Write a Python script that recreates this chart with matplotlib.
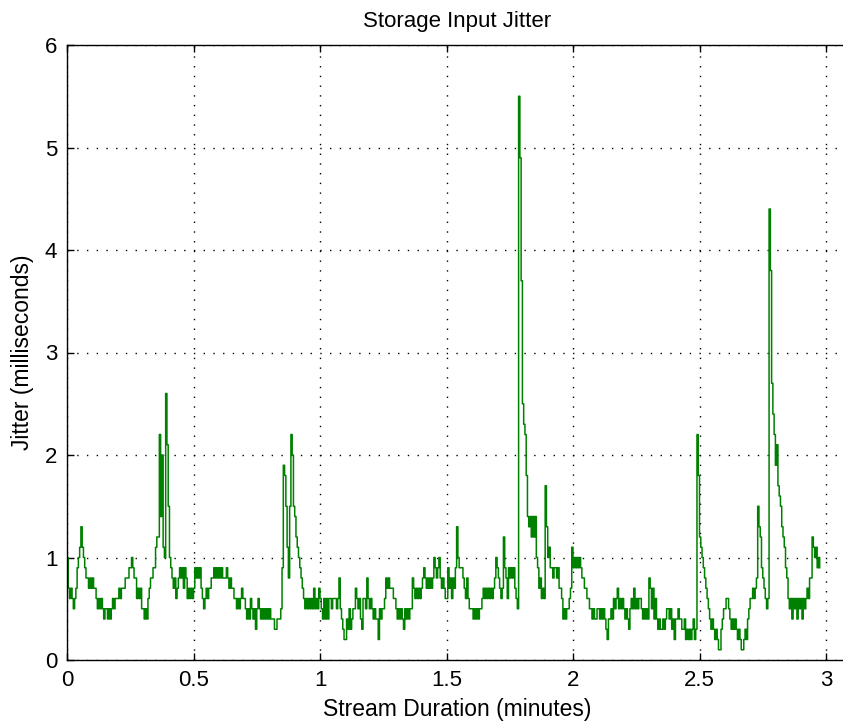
import numpy as np
import matplotlib
matplotlib.use("Agg")
import matplotlib.pyplot as plt

# Jitter samples (ms), one every 0.005 minutes, listed 0.1 minute per row
sample_step = 0.005
jitter_ms = [
    1.0, 0.7, 0.6, 0.7, 0.6, 0.5, 0.6, 0.7, 0.9, 1.0, 1.1, 1.3, 1.1, 1.0, 0.9, 0.8, 0.8, 0.7, 0.8, 0.7,
    0.8, 0.7, 0.7, 0.6, 0.5, 0.6, 0.5, 0.6, 0.5, 0.4, 0.5, 0.5, 0.4, 0.5, 0.4, 0.5, 0.6, 0.5, 0.6, 0.6,
    0.6, 0.7, 0.6, 0.7, 0.7, 0.7, 0.8, 0.8, 0.8, 0.9, 0.9, 1.0, 0.9, 0.8, 0.8, 0.6, 0.7, 0.6, 0.7, 0.5,
    0.5, 0.4, 0.5, 0.4, 0.6, 0.7, 0.8, 0.8, 0.9, 0.9, 1.1, 1.2, 1.2, 2.2, 1.4, 2.0, 1.1, 1.0, 2.6, 2.1,
    1.5, 1.0, 0.9, 0.8, 0.7, 0.8, 0.6, 0.7, 0.8, 0.9, 0.8, 0.9, 0.7, 0.9, 0.8, 0.6, 0.7, 0.6, 0.7, 0.6,
    0.7, 0.9, 0.8, 0.9, 0.8, 0.9, 0.7, 0.6, 0.5, 0.6, 0.7, 0.6, 0.7, 0.7, 0.8, 0.8, 0.9, 0.8, 0.9, 0.8,
    0.9, 0.8, 0.9, 0.8, 0.8, 0.8, 0.9, 0.8, 0.7, 0.8, 0.7, 0.7, 0.6, 0.6, 0.5, 0.6, 0.5, 0.6, 0.7, 0.6,
    0.6, 0.5, 0.4, 0.5, 0.4, 0.6, 0.5, 0.4, 0.5, 0.3, 0.5, 0.6, 0.5, 0.4, 0.5, 0.4, 0.5, 0.4, 0.5, 0.4,
    0.5, 0.4, 0.4, 0.4, 0.3, 0.3, 0.4, 0.4, 0.4, 0.5, 0.9, 1.9, 1.8, 1.5, 1.1, 0.8, 1.5, 2.2, 2.0, 1.5,
    1.4, 1.2, 1.1, 1.0, 0.9, 0.8, 0.7, 0.6, 0.5, 0.6, 0.5, 0.6, 0.5, 0.6, 0.5, 0.7, 0.5, 0.6, 0.5, 0.7,
    0.6, 0.5, 0.4, 0.6, 0.4, 0.6, 0.4, 0.6, 0.6, 0.5, 0.6, 0.6, 0.6, 0.5, 0.6, 0.8, 0.5, 0.4, 0.3, 0.2,
    0.2, 0.4, 0.3, 0.5, 0.3, 0.4, 0.5, 0.5, 0.7, 0.6, 0.5, 0.6, 0.4, 0.3, 0.6, 0.6, 0.5, 0.8, 0.6, 0.5,
    0.6, 0.5, 0.4, 0.5, 0.4, 0.4, 0.2, 0.5, 0.4, 0.5, 0.5, 0.6, 0.8, 0.7, 0.8, 0.7, 0.7, 0.7, 0.6, 0.6,
    0.5, 0.4, 0.5, 0.4, 0.5, 0.4, 0.3, 0.5, 0.4, 0.5, 0.4, 0.5, 0.5, 0.8, 0.7, 0.6, 0.7, 0.6, 0.7, 0.6,
    0.7, 0.8, 0.9, 0.8, 0.7, 0.8, 0.7, 0.8, 0.7, 0.8, 1.0, 0.9, 0.8, 0.9, 1.0, 0.8, 0.7, 0.8, 0.7, 0.6,
    0.6, 0.9, 0.7, 0.8, 0.6, 0.8, 0.7, 0.9, 1.3, 1.0, 0.9, 0.9, 0.9, 0.8, 0.7, 0.6, 0.8, 0.6, 0.5, 0.5,
    0.5, 0.4, 0.5, 0.4, 0.5, 0.4, 0.5, 0.5, 0.6, 0.7, 0.6, 0.7, 0.6, 0.7, 0.6, 0.7, 0.6, 0.7, 0.8, 1.0,
    0.9, 0.8, 0.7, 0.6, 0.7, 1.2, 0.9, 0.8, 0.6, 0.9, 0.8, 0.9, 0.8, 0.9, 0.7, 0.6, 0.5, 5.5, 4.9, 3.7,
    2.5, 2.3, 2.2, 1.8, 1.4, 1.3, 1.4, 1.2, 1.4, 1.2, 1.4, 1.0, 0.9, 0.7, 0.8, 0.6, 0.7, 0.6, 1.7, 1.3,
    1.0, 1.1, 0.9, 0.9, 0.8, 0.9, 0.9, 0.8, 0.9, 0.7, 0.7, 0.6, 0.4, 0.5, 0.4, 0.5, 0.5, 0.6, 0.7, 1.1,
    0.9, 1.0, 0.9, 1.0, 0.9, 1.0, 0.9, 0.8, 0.8, 0.7, 0.7, 0.6, 0.6, 0.5, 0.5, 0.4, 0.5, 0.4, 0.4, 0.5,
    0.5, 0.4, 0.5, 0.4, 0.5, 0.4, 0.3, 0.2, 0.4, 0.4, 0.5, 0.4, 0.6, 0.5, 0.6, 0.7, 0.5, 0.6, 0.5, 0.6,
    0.5, 0.4, 0.5, 0.4, 0.3, 0.5, 0.6, 0.5, 0.7, 0.5, 0.6, 0.5, 0.6, 0.6, 0.5, 0.4, 0.5, 0.4, 0.5, 0.4,
    0.8, 0.7, 0.5, 0.7, 0.4, 0.6, 0.4, 0.3, 0.4, 0.3, 0.3, 0.4, 0.3, 0.4, 0.5, 0.5, 0.4, 0.5, 0.3, 0.4,
    0.2, 0.4, 0.4, 0.5, 0.4, 0.4, 0.3, 0.3, 0.4, 0.2, 0.3, 0.2, 0.3, 0.2, 0.3, 0.4, 0.2, 0.3, 2.2, 1.8,
    1.2, 1.1, 1.0, 0.9, 0.8, 0.7, 0.6, 0.5, 0.4, 0.3, 0.4, 0.3, 0.2, 0.3, 0.2, 0.1, 0.1, 0.3, 0.4, 0.5,
    0.5, 0.6, 0.6, 0.5, 0.4, 0.3, 0.4, 0.3, 0.4, 0.3, 0.2, 0.3, 0.2, 0.1, 0.1, 0.2, 0.3, 0.2, 0.4, 0.5,
    0.6, 0.6, 0.7, 0.6, 0.7, 0.8, 1.5, 1.3, 1.2, 0.9, 0.8, 0.7, 0.6, 0.5, 0.6, 4.4, 3.8, 2.7, 2.4, 2.2,
    1.9, 2.1, 1.7, 1.6, 1.5, 1.3, 1.2, 1.1, 0.9, 0.8, 0.6, 0.5, 0.6, 0.4, 0.6, 0.5, 0.6, 0.4, 0.6, 0.5,
    0.6, 0.4, 0.6, 0.5, 0.6, 0.7, 0.6, 0.8, 0.8, 1.2, 1.1, 1.0, 1.1, 0.9, 1.0, 0.9,
]
minutes = np.arange(len(jitter_ms)) * sample_step

x_ticks = [0, 0.5, 1, 1.5, 2, 2.5, 3]
x_tick_labels = ["0", "0.5", "1", "1.5", "2", "2.5", "3"]
y_ticks = [0, 1, 2, 3, 4, 5, 6]
y_tick_labels = ["0", "1", "2", "3", "4", "5", "6"]

plt.rcParams["font.family"] = ["Liberation Sans", "DejaVu Sans"]

W, H = 843, 725
fig = plt.figure(figsize=(W / 100, H / 100), dpi=100)
fig.patch.set_facecolor("white")

# axes box: left edge at x=67 px, bottom at 660 px, top at 45 px; right side runs past the canvas
left, right, top, bottom = 67, 852, 45, 660
px_per_minute = 253.0
ax = fig.add_axes([left / W, (H - bottom) / H, (right - left) / W, (bottom - top) / H])

ax.plot(minutes, jitter_ms, color="#008000", linewidth=1.1, drawstyle="steps-post")

ax.set_xlim(0, (right - left) / px_per_minute)
ax.set_ylim(0, 6)
ax.set_xticks(x_ticks)
ax.set_xticklabels(x_tick_labels)
ax.set_yticks(y_ticks)
ax.set_yticklabels(y_tick_labels)

ax.grid(True, color="black", linestyle=(0, (1, 6)), linewidth=1.0)
ax.set_axisbelow(True)
ax.tick_params(direction="in", top=True, right=False, length=5, width=1,
               labelsize=16, pad=7, colors="black")
for sp in ax.spines.values():
    sp.set_linewidth(1.0)
    sp.set_color("black")
ax.spines["right"].set_visible(False)

# title and x label centred on the full axes box, which ends just past the canvas
ax.set_title("Storage Input Jitter", fontsize=16, pad=13)
ax.set_xlabel("Stream Duration (minutes)", fontsize=16.5, labelpad=3)
ax.set_ylabel("Jitter (milliseconds)", fontsize=16.5, labelpad=8)
ax.title.set_x((457 - left) / (right - left))
ax.xaxis.set_label_coords((457 - left) / (right - left), -0.062)

fig.savefig("out.png", dpi=100, facecolor="white")
